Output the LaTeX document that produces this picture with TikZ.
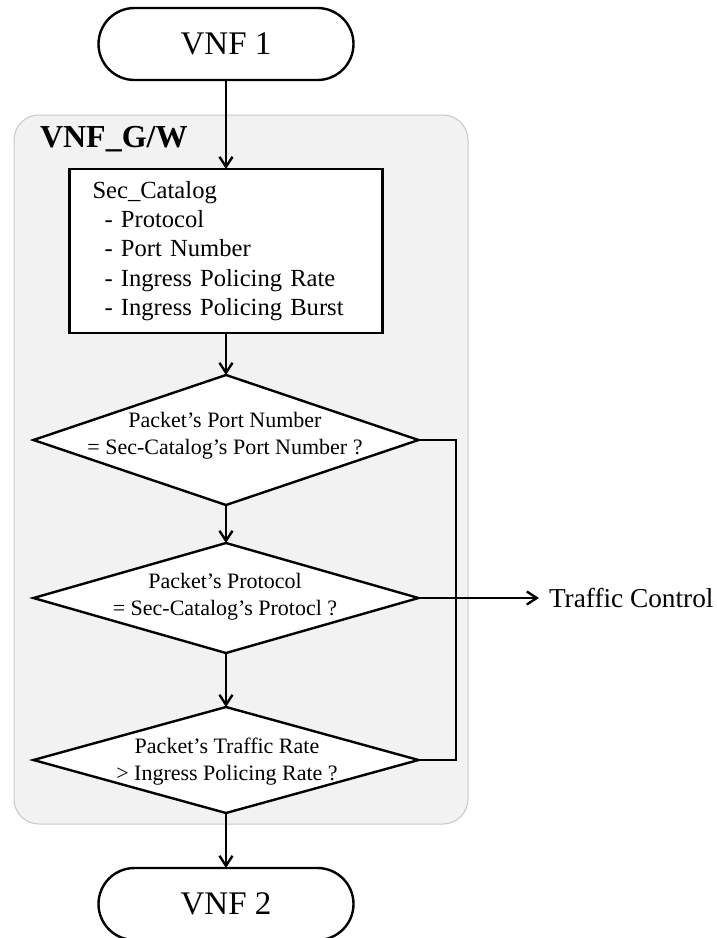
\documentclass[tikz,border=0pt]{standalone}
\usepackage{fontspec}
\setmainfont{Liberation Serif}
\usetikzlibrary{shapes.geometric,shapes.misc,arrows.meta}

\begin{document}
\begin{tikzpicture}[x=1pt,y=-1pt,
  every node/.style={inner sep=0pt, outer sep=0pt},
  term/.style={draw, line width=2.4pt, rounded rectangle, fill=white,
    minimum width=255pt, minimum height=72pt,
    font=\fontsize{33}{38}\selectfont},
  panel/.style={draw=black!22, line width=1pt, fill=black!5,
    rounded corners=25pt, minimum width=454pt, minimum height=709pt},
  catbox/.style={draw, line width=2.4pt, fill=white, align=left,
    text width=267pt, inner xsep=23pt, inner ysep=0pt,
    minimum height=164pt, font=\fontsize{24.6}{29.25}\selectfont},
  dia/.style={draw, line width=2.4pt, fill=white, diamond, inner sep=0pt},
  dtext/.style={align=center, font=\fontsize{22}{27}\selectfont},
  flow/.style={line width=2.4pt},
  arr/.style={line width=2.4pt, -{Straight Barb[length=10pt,width=13pt]}}]

\useasboundingbox (0,0) rectangle (717,938);

% gateway panel
\node[panel] (gw) at (241,469.5) {};
\node[anchor=base west, font=\fontsize{32}{38}\selectfont\bfseries]
  (gwlabel) at (40,147) {VNF\_G/W};

% terminals
\node[term] (vnf1) at (226,44) {VNF 1};
\node[term] (vnf2) at (226,904) {VNF 2};

% security catalogue
\node[catbox] (cat) at (226,251) {Sec\_Catalog\\
  \hspace*{12pt}- Protocol\\
  \hspace*{12pt}- Port Number\\
  \hspace*{12pt}- Ingress Policing Rate\\
  \hspace*{12pt}- Ingress Policing Burst};

% decisions
\node[dia, minimum width=385pt, minimum height=130pt] (d1) at (226,440) {};
\node[dia, minimum width=385pt, minimum height=110pt] (d2) at (226,598) {};
\node[dia, minimum width=385pt, minimum height=106pt] (d3) at (226,760) {};

\node[dtext] (t1) at (225,436) {Packet’s Port Number\\= Sec-Catalog’s Port Number ?};
\node[dtext] (t2) at (225,597) {Packet’s Protocol\\= Sec-Catalog’s Protocl ?};
\node[dtext] (t3) at (227,761.5) {Packet’s Traffic Rate\\> Ingress Policing Rate ?};

% traffic control output
\node[anchor=west, inner xsep=10pt, font=\fontsize{27.3}{31}\selectfont]
  (tc) at (539,598) {Traffic Control};

% main flow
\draw[arr] (vnf1) -- (cat);
\draw[arr] (cat) -- (d1);
\draw[arr] (d1) -- (d2);
\draw[arr] (d2) -- (d3);
\draw[arr] (d3) -- (vnf2);

% side branch
\coordinate (rx) at (456,0);
\draw[flow] (d1.east) -- (d1.east -| rx) -- (d3.east -| rx) -- (d3.east);
\draw[arr] (d2.east) -- (tc.west);

\end{tikzpicture}
\end{document}
